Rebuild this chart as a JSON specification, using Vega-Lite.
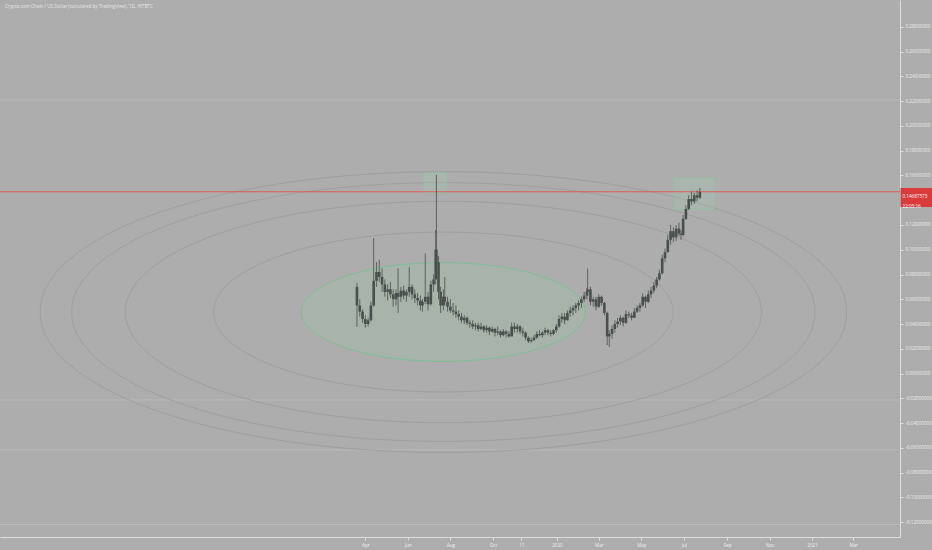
{
  "$schema": "https://vega.github.io/schema/vega-lite/v6.json",
  "width": 900,
  "height": 537,
  "autosize": {"type": "none"},
  "padding": {"left": 0, "top": 0, "right": 32, "bottom": 13},
  "background": "#adadad",
  "config": {"view": {"stroke": null}, "font": "Open Sans"},
  "title": {
    "text": "Crypto.com Chain / US Dollar (calculated by TradingView), 1D, HITBTC",
    "anchor": "start", "frame": "group", "orient": "top", "offset": -14,
    "fontSize": 4.6, "fontWeight": "normal", "color": "#e6e6e6", "font": "Open Sans",
    "dx": 5, "baseline": "bottom"
  },
  "datasets": {
    "hlines": [{"price": 0.221}, {"price": -0.0214}, {"price": -0.0618}, {"price": -0.122}],
    "rings": [{"date": "2019-07-22", "price": 0.0497, "level": 1.618}, {"date": "2019-07-22", "price": 0.0497, "level": 2.24}, {"date": "2019-07-22", "price": 0.0497, "level": 2.618}, {"date": "2019-07-22", "price": 0.0497, "level": 2.84}],
    "base": [{"date": "2019-07-22", "price": 0.0497, "level": 1}],
    "boxes": [{"date": "2019-06-23", "date2": "2019-07-27", "top": 0.162, "bottom": 0.1459}, {"date": "2020-06-17", "date2": "2020-08-14", "top": 0.158, "bottom": 0.1329}],
    "last": [{"price": 0.14687573}],
    "candles": [
      {"date":"2019-03-20","o":0.070,"h":0.0731,"l":0.0376,"c":0.055},
      {"date":"2019-03-24","o":0.055,"h":0.060,"l":0.046,"c":0.050},
      {"date":"2019-03-28","o":0.050,"h":0.052,"l":0.041,"c":0.044},
      {"date":"2019-04-01","o":0.044,"h":0.047,"l":0.037,"c":0.040},
      {"date":"2019-04-05","o":0.040,"h":0.045,"l":0.038,"c":0.043},
      {"date":"2019-04-09","o":0.043,"h":0.058,"l":0.042,"c":0.055},
      {"date":"2019-04-13","o":0.055,"h":0.1095,"l":0.054,"c":0.075},
      {"date":"2019-04-17","o":0.075,"h":0.090,"l":0.070,"c":0.082},
      {"date":"2019-04-21","o":0.082,"h":0.092,"l":0.074,"c":0.078},
      {"date":"2019-04-25","o":0.078,"h":0.085,"l":0.066,"c":0.072},
      {"date":"2019-04-29","o":0.072,"h":0.076,"l":0.062,"c":0.066},
      {"date":"2019-05-03","o":0.066,"h":0.072,"l":0.059,"c":0.068},
      {"date":"2019-05-07","o":0.068,"h":0.074,"l":0.061,"c":0.064},
      {"date":"2019-05-11","o":0.064,"h":0.068,"l":0.054,"c":0.060},
      {"date":"2019-05-15","o":0.060,"h":0.068,"l":0.055,"c":0.065},
      {"date":"2019-05-18","o":0.065,"h":0.085,"l":0.049,"c":0.062},
      {"date":"2019-05-22","o":0.062,"h":0.070,"l":0.058,"c":0.067},
      {"date":"2019-05-26","o":0.067,"h":0.071,"l":0.060,"c":0.063},
      {"date":"2019-05-30","o":0.063,"h":0.068,"l":0.058,"c":0.066},
      {"date":"2019-06-03","o":0.066,"h":0.086,"l":0.062,"c":0.070},
      {"date":"2019-06-07","o":0.070,"h":0.072,"l":0.060,"c":0.064},
      {"date":"2019-06-11","o":0.064,"h":0.068,"l":0.057,"c":0.061},
      {"date":"2019-06-15","o":0.061,"h":0.065,"l":0.055,"c":0.059},
      {"date":"2019-06-19","o":0.059,"h":0.063,"l":0.051,"c":0.055},
      {"date":"2019-06-22","o":0.055,"h":0.060,"l":0.050,"c":0.058},
      {"date":"2019-06-26","o":0.058,"h":0.097,"l":0.056,"c":0.062},
      {"date":"2019-06-30","o":0.062,"h":0.066,"l":0.051,"c":0.056},
      {"date":"2019-07-04","o":0.056,"h":0.075,"l":0.055,"c":0.072},
      {"date":"2019-07-08","o":0.072,"h":0.080,"l":0.066,"c":0.076},
      {"date":"2019-07-11","o":0.076,"h":0.116,"l":0.072,"c":0.100},
      {"date":"2019-07-12","o":0.100,"h":0.1604,"l":0.080,"c":0.090},
      {"date":"2019-07-15","o":0.090,"h":0.095,"l":0.060,"c":0.066},
      {"date":"2019-07-18","o":0.066,"h":0.070,"l":0.049,"c":0.055},
      {"date":"2019-07-22","o":0.055,"h":0.068,"l":0.051,"c":0.062},
      {"date":"2019-07-24","o":0.062,"h":0.078,"l":0.055,"c":0.058},
      {"date":"2019-07-28","o":0.058,"h":0.062,"l":0.050,"c":0.054},
      {"date":"2019-08-01","o":0.054,"h":0.060,"l":0.049,"c":0.051},
      {"date":"2019-08-05","o":0.051,"h":0.057,"l":0.047,"c":0.050},
      {"date":"2019-08-09","o":0.050,"h":0.055,"l":0.045,"c":0.048},
      {"date":"2019-08-13","o":0.048,"h":0.051,"l":0.043,"c":0.046},
      {"date":"2019-08-17","o":0.046,"h":0.049,"l":0.041,"c":0.043},
      {"date":"2019-08-21","o":0.043,"h":0.047,"l":0.040,"c":0.045},
      {"date":"2019-08-25","o":0.045,"h":0.046,"l":0.039,"c":0.041},
      {"date":"2019-08-29","o":0.041,"h":0.043,"l":0.037,"c":0.040},
      {"date":"2019-09-02","o":0.040,"h":0.043,"l":0.036,"c":0.038},
      {"date":"2019-09-06","o":0.038,"h":0.041,"l":0.035,"c":0.039},
      {"date":"2019-09-10","o":0.039,"h":0.041,"l":0.034,"c":0.036},
      {"date":"2019-09-14","o":0.036,"h":0.041,"l":0.035,"c":0.038},
      {"date":"2019-09-18","o":0.038,"h":0.039,"l":0.033,"c":0.035},
      {"date":"2019-09-22","o":0.035,"h":0.039,"l":0.033,"c":0.037},
      {"date":"2019-09-26","o":0.037,"h":0.038,"l":0.031,"c":0.034},
      {"date":"2019-09-30","o":0.034,"h":0.038,"l":0.033,"c":0.036},
      {"date":"2019-10-04","o":0.036,"h":0.037,"l":0.030,"c":0.033},
      {"date":"2019-10-08","o":0.033,"h":0.038,"l":0.031,"c":0.034},
      {"date":"2019-10-12","o":0.034,"h":0.035,"l":0.029,"c":0.031},
      {"date":"2019-10-16","o":0.031,"h":0.036,"l":0.030,"c":0.034},
      {"date":"2019-10-20","o":0.034,"h":0.035,"l":0.029,"c":0.032},
      {"date":"2019-10-24","o":0.032,"h":0.034,"l":0.029,"c":0.030},
      {"date":"2019-10-28","o":0.030,"h":0.041,"l":0.030,"c":0.038},
      {"date":"2019-11-01","o":0.038,"h":0.041,"l":0.033,"c":0.036},
      {"date":"2019-11-05","o":0.036,"h":0.040,"l":0.033,"c":0.038},
      {"date":"2019-11-09","o":0.038,"h":0.039,"l":0.032,"c":0.034},
      {"date":"2019-11-13","o":0.034,"h":0.037,"l":0.030,"c":0.033},
      {"date":"2019-11-17","o":0.033,"h":0.034,"l":0.027,"c":0.029},
      {"date":"2019-11-21","o":0.029,"h":0.030,"l":0.0246,"c":0.026},
      {"date":"2019-11-25","o":0.026,"h":0.029,"l":0.025,"c":0.027},
      {"date":"2019-11-29","o":0.027,"h":0.031,"l":0.026,"c":0.029},
      {"date":"2019-12-03","o":0.029,"h":0.034,"l":0.028,"c":0.032},
      {"date":"2019-12-07","o":0.032,"h":0.035,"l":0.030,"c":0.031},
      {"date":"2019-12-11","o":0.031,"h":0.034,"l":0.029,"c":0.033},
      {"date":"2019-12-15","o":0.033,"h":0.037,"l":0.031,"c":0.035},
      {"date":"2019-12-19","o":0.035,"h":0.036,"l":0.031,"c":0.033},
      {"date":"2019-12-23","o":0.033,"h":0.035,"l":0.030,"c":0.032},
      {"date":"2019-12-27","o":0.032,"h":0.036,"l":0.031,"c":0.035},
      {"date":"2019-12-31","o":0.035,"h":0.040,"l":0.033,"c":0.038},
      {"date":"2020-01-04","o":0.038,"h":0.047,"l":0.037,"c":0.044},
      {"date":"2020-01-08","o":0.044,"h":0.049,"l":0.041,"c":0.046},
      {"date":"2020-01-12","o":0.046,"h":0.049,"l":0.040,"c":0.043},
      {"date":"2020-01-16","o":0.043,"h":0.051,"l":0.043,"c":0.049},
      {"date":"2020-01-20","o":0.049,"h":0.054,"l":0.046,"c":0.051},
      {"date":"2020-01-24","o":0.051,"h":0.055,"l":0.047,"c":0.053},
      {"date":"2020-01-28","o":0.053,"h":0.057,"l":0.049,"c":0.055},
      {"date":"2020-02-01","o":0.055,"h":0.059,"l":0.051,"c":0.057},
      {"date":"2020-02-05","o":0.057,"h":0.062,"l":0.053,"c":0.060},
      {"date":"2020-02-09","o":0.060,"h":0.066,"l":0.058,"c":0.063},
      {"date":"2020-02-13","o":0.063,"h":0.069,"l":0.060,"c":0.066},
      {"date":"2020-02-14","o":0.066,"h":0.085,"l":0.063,"c":0.068},
      {"date":"2020-02-18","o":0.068,"h":0.070,"l":0.055,"c":0.058},
      {"date":"2020-02-22","o":0.058,"h":0.062,"l":0.054,"c":0.060},
      {"date":"2020-02-26","o":0.060,"h":0.062,"l":0.051,"c":0.054},
      {"date":"2020-03-01","o":0.054,"h":0.064,"l":0.053,"c":0.062},
      {"date":"2020-03-05","o":0.062,"h":0.063,"l":0.055,"c":0.057},
      {"date":"2020-03-09","o":0.057,"h":0.058,"l":0.047,"c":0.049},
      {"date":"2020-03-13","o":0.049,"h":0.050,"l":0.023,"c":0.030},
      {"date":"2020-03-16","o":0.030,"h":0.035,"l":0.0214,"c":0.032},
      {"date":"2020-03-20","o":0.032,"h":0.039,"l":0.028,"c":0.036},
      {"date":"2020-03-24","o":0.036,"h":0.043,"l":0.033,"c":0.040},
      {"date":"2020-03-28","o":0.040,"h":0.045,"l":0.037,"c":0.042},
      {"date":"2020-04-01","o":0.042,"h":0.047,"l":0.039,"c":0.045},
      {"date":"2020-04-05","o":0.045,"h":0.046,"l":0.038,"c":0.041},
      {"date":"2020-04-09","o":0.041,"h":0.051,"l":0.040,"c":0.048},
      {"date":"2020-04-13","o":0.048,"h":0.050,"l":0.045,"c":0.047},
      {"date":"2020-04-17","o":0.047,"h":0.049,"l":0.043,"c":0.045},
      {"date":"2020-04-21","o":0.045,"h":0.053,"l":0.045,"c":0.050},
      {"date":"2020-04-25","o":0.050,"h":0.055,"l":0.049,"c":0.053},
      {"date":"2020-04-29","o":0.053,"h":0.057,"l":0.050,"c":0.055},
      {"date":"2020-05-03","o":0.055,"h":0.065,"l":0.054,"c":0.062},
      {"date":"2020-05-07","o":0.062,"h":0.063,"l":0.053,"c":0.058},
      {"date":"2020-05-11","o":0.058,"h":0.067,"l":0.057,"c":0.064},
      {"date":"2020-05-15","o":0.064,"h":0.070,"l":0.061,"c":0.067},
      {"date":"2020-05-19","o":0.067,"h":0.074,"l":0.065,"c":0.071},
      {"date":"2020-05-23","o":0.071,"h":0.078,"l":0.069,"c":0.076},
      {"date":"2020-05-27","o":0.076,"h":0.084,"l":0.075,"c":0.081},
      {"date":"2020-05-31","o":0.081,"h":0.096,"l":0.080,"c":0.093},
      {"date":"2020-06-04","o":0.093,"h":0.101,"l":0.090,"c":0.098},
      {"date":"2020-06-08","o":0.098,"h":0.112,"l":0.098,"c":0.108},
      {"date":"2020-06-12","o":0.108,"h":0.120,"l":0.104,"c":0.115},
      {"date":"2020-06-16","o":0.115,"h":0.118,"l":0.106,"c":0.110},
      {"date":"2020-06-20","o":0.110,"h":0.120,"l":0.107,"c":0.117},
      {"date":"2020-06-24","o":0.117,"h":0.122,"l":0.111,"c":0.113},
      {"date":"2020-06-27","o":0.113,"h":0.116,"l":0.108,"c":0.112},
      {"date":"2020-06-30","o":0.112,"h":0.128,"l":0.111,"c":0.125},
      {"date":"2020-07-04","o":0.125,"h":0.136,"l":0.124,"c":0.133},
      {"date":"2020-07-08","o":0.133,"h":0.144,"l":0.132,"c":0.141},
      {"date":"2020-07-12","o":0.141,"h":0.147,"l":0.136,"c":0.139},
      {"date":"2020-07-16","o":0.139,"h":0.146,"l":0.137,"c":0.144},
      {"date":"2020-07-20","o":0.144,"h":0.148,"l":0.139,"c":0.142},
      {"date":"2020-07-24","o":0.142,"h":0.150,"l":0.141,"c":0.14687573}
    ]
  },
  "resolve": {"axis": {"x": "independent", "y": "independent"}},
  "layer": [
    {
      "data": {"name": "hlines"},
      "mark": {"type": "rule", "color": "#c2c2c2", "strokeWidth": 0.8, "opacity": 0.75},
      "encoding": {
        "y": {"field": "price", "type": "quantitative", "scale": {"domain": [-0.1321, 0.3018], "nice": false, "zero": false}, "axis": null}
      }
    },
    {
      "data": {"name": "rings"},
      "mark": {"type": "point", "shape": "M-1,0C-1,-0.1922,-0.5523,-0.348,0,-0.348C0.5523,-0.348,1,-0.1922,1,0C1,0.1922,0.5523,0.348,0,0.348C-0.5523,0.348,-1,0.1922,-1,0Z", "filled": false, "stroke": "#9c9c9c", "strokeWidth": 0.8, "opacity": 1, "clip": true},
      "encoding": {
        "x": {"field": "date", "type": "temporal", "scale": {"type": "utc", "domain": [{"year": 2017, "month": 10, "date": 31, "utc": true}, {"year": 2021, "month": 4, "date": 30, "utc": true}]}, "axis": null},
        "y": {"field": "price", "type": "quantitative", "scale": {"domain": [-0.1321, 0.3018], "nice": false, "zero": false}, "axis": null},
        "size": {"field": "level", "type": "quantitative", "scale": {"type": "pow", "exponent": 2, "domain": [0, 1], "range": [0, 80656]}, "legend": null}
      }
    },
    {
      "data": {"name": "base"},
      "mark": {"type": "point", "shape": "M-1,0C-1,-0.1922,-0.5523,-0.348,0,-0.348C0.5523,-0.348,1,-0.1922,1,0C1,0.1922,0.5523,0.348,0,0.348C-0.5523,0.348,-1,0.1922,-1,0Z", "filled": true, "fill": "#8fd19e", "fillOpacity": 0.16, "stroke": "#6cc48f", "strokeOpacity": 0.9, "strokeWidth": 0.8, "opacity": 1, "clip": true},
      "encoding": {
        "x": {"field": "date", "type": "temporal", "scale": {"type": "utc", "domain": [{"year": 2017, "month": 10, "date": 31, "utc": true}, {"year": 2021, "month": 4, "date": 30, "utc": true}]}, "axis": null},
        "y": {"field": "price", "type": "quantitative", "scale": {"domain": [-0.1321, 0.3018], "nice": false, "zero": false}, "axis": null},
        "size": {"field": "level", "type": "quantitative", "scale": {"type": "pow", "exponent": 2, "domain": [0, 1], "range": [0, 80656]}, "legend": null}
      }
    },
    {
      "data": {"name": "boxes"},
      "mark": {"type": "rect", "fill": "#9ad8ad", "fillOpacity": 0.2, "stroke": "#7fcf9b", "strokeOpacity": 0.6, "strokeWidth": 0.8},
      "encoding": {
        "x": {"field": "date", "type": "temporal", "scale": {"type": "utc", "domain": [{"year": 2017, "month": 10, "date": 31, "utc": true}, {"year": 2021, "month": 4, "date": 30, "utc": true}]}, "axis": null},
        "x2": {"field": "date2"},
        "y": {"field": "top", "type": "quantitative", "scale": {"domain": [-0.1321, 0.3018], "nice": false, "zero": false}, "axis": null},
        "y2": {"field": "bottom"}
      }
    },
    {
      "data": {"name": "last"},
      "mark": {"type": "rule", "color": "#e05656", "strokeWidth": 1, "opacity": 0.9},
      "encoding": {
        "y": {"field": "price", "type": "quantitative", "scale": {"domain": [-0.1321, 0.3018], "nice": false, "zero": false},
          "axis": {"orient": "right", "values": [0.14687573], "domain": false, "grid": false, "title": null,
            "tickSize": 32, "tickWidth": 19, "tickOffset": 5, "tickColor": "#d93a3a",
            "labelExpr": "['0.14687573', '22:03:16']", "labelColor": "#ffffff", "labelFontSize": 4.6, "labelFont": "Open Sans",
            "labelPadding": -30, "labelLineHeight": 9.5, "labelBaseline": "middle", "labelAlign": "left",
            "labelFlush": false, "labelOverlap": false, "labelBound": false, "zindex": 2}}
      }
    },
    {
      "data": {"name": "candles"},
      "mark": {"type": "rule", "color": "#484f4c", "strokeWidth": 0.8},
      "encoding": {
        "x": {"field": "date", "type": "temporal", "scale": {"type": "utc", "domain": [{"year": 2017, "month": 10, "date": 31, "utc": true}, {"year": 2021, "month": 4, "date": 30, "utc": true}]},
          "axis": {"orient": "bottom", "title": null, "grid": false,
            "values": [{"year": 2019, "month": 4, "date": 1, "utc": true}, {"year": 2019, "month": 6, "date": 1, "utc": true}, {"year": 2019, "month": 8, "date": 1, "utc": true}, {"year": 2019, "month": 10, "date": 1, "utc": true}, {"year": 2019, "month": 11, "date": 11, "utc": true}, {"year": 2020, "month": 1, "date": 1, "utc": true}, {"year": 2020, "month": 3, "date": 1, "utc": true}, {"year": 2020, "month": 5, "date": 1, "utc": true}, {"year": 2020, "month": 7, "date": 1, "utc": true}, {"year": 2020, "month": 9, "date": 1, "utc": true}, {"year": 2020, "month": 11, "date": 1, "utc": true}, {"year": 2021, "month": 1, "date": 1, "utc": true}, {"year": 2021, "month": 3, "date": 1, "utc": true}],
            "labelExpr": "utcFormat(datum.value, '%m-%d') == '11-11' ? '11' : (utcFormat(datum.value, '%m') == '01' ? utcFormat(datum.value, '%Y') : utcFormat(datum.value, '%b'))",
            "domainColor": "#dddddd", "domainWidth": 1, "tickColor": "#dddddd", "tickSize": 3,
            "labelColor": "#eeeeee", "labelFontSize": 4.6, "labelFont": "Open Sans", "labelPadding": 2,
            "labelFlush": false, "labelOverlap": false}},
        "y": {"field": "l", "type": "quantitative", "scale": {"domain": [-0.1321, 0.3018], "nice": false, "zero": false},
          "axis": {"orient": "right", "title": null, "grid": false,
            "values": [-0.12, -0.1, -0.08, -0.06, -0.04, -0.02, 0, 0.02, 0.04, 0.06, 0.08, 0.1, 0.12, 0.16, 0.18, 0.2, 0.22, 0.24, 0.26, 0.28],
            "labelExpr": "replace(format(datum.value, '.8f'), '\u2212', '-')",
            "domainColor": "#dddddd", "domainWidth": 1, "tickColor": "#dddddd", "tickSize": 3,
            "labelColor": "#eeeeee", "labelFontSize": 4.6, "labelFont": "Open Sans", "labelPadding": 2,
            "labelFlush": false, "labelOverlap": false, "labelBound": false}},
        "y2": {"field": "h"}
      }
    },
    {
      "data": {"name": "candles"},
      "mark": {"type": "bar", "color": "#484f4c", "size": 2.6},
      "encoding": {
        "x": {"field": "date", "type": "temporal", "scale": {"type": "utc", "domain": [{"year": 2017, "month": 10, "date": 31, "utc": true}, {"year": 2021, "month": 4, "date": 30, "utc": true}]}, "axis": null},
        "y": {"field": "o", "type": "quantitative", "scale": {"domain": [-0.1321, 0.3018], "nice": false, "zero": false}, "axis": null},
        "y2": {"field": "c"}
      }
    }
  ]
}
